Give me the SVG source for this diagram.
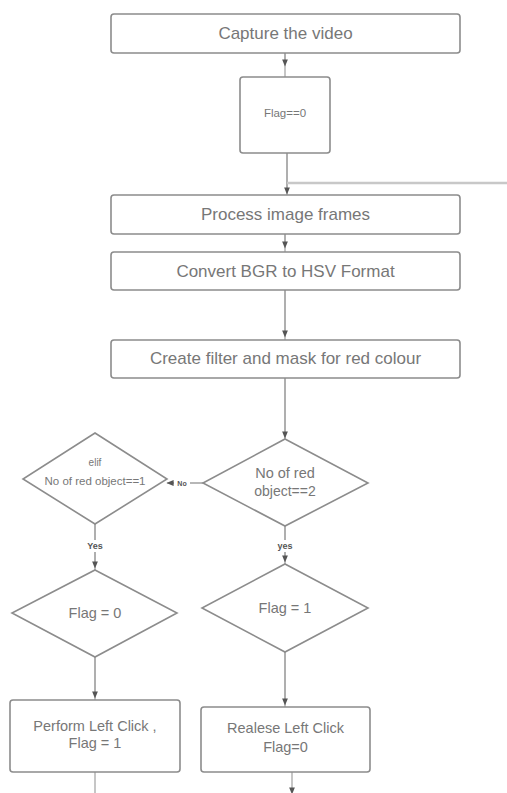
<svg xmlns="http://www.w3.org/2000/svg" width="507" height="793" viewBox="0 0 507 793">
<defs>
<style>
.box{fill:#fff;stroke:#8c8c8c;stroke-width:1.6}
.t{font-family:"Liberation Sans",Arial,sans-serif;fill:#777;text-anchor:middle;dominant-baseline:central}
.c{stroke:#a0a0a0;stroke-width:1.2;fill:none}
.lbl{font-family:"Liberation Sans",Arial,sans-serif;fill:#555;text-anchor:middle;dominant-baseline:central;font-weight:bold}
</style>
<marker id="ah" viewBox="0 0 10 10" refX="5" refY="5" markerWidth="6" markerHeight="6" orient="auto">
<path d="M0,1 L10,5 L0,9 z" fill="#555"/>
</marker>
</defs>
<rect width="507" height="793" fill="#fff"/>
<g id="connectors">
<path class="c" d="M285,53 V77"/>
<path class="c" d="M285,53 V63" marker-end="url(#ah)"/>
<path class="c" d="M287,153 V195"/>
<path class="c" d="M287,153 V191" marker-end="url(#ah)"/>
<path d="M287,183 H507" stroke="#c8c8c8" stroke-width="2.5" fill="none"/>
<path class="c" d="M285,234 V252"/>
<path class="c" d="M285,234 V245" marker-end="url(#ah)"/>
<path class="c" d="M285,290 V340"/>
<path class="c" d="M285,290 V334" marker-end="url(#ah)"/>
<path class="c" d="M285,378 V439"/>
<path class="c" d="M285,378 V435" marker-end="url(#ah)"/>
<path class="c" d="M203,483 H167"/>
<path class="c" d="M203,483 H170" marker-end="url(#ah)"/>
<path class="c" d="M95,524 V570"/>
<path class="c" d="M95,524 V565" marker-end="url(#ah)"/>
<path class="c" d="M285,526 V564"/>
<path class="c" d="M285,526 V559" marker-end="url(#ah)"/>
<path class="c" d="M95,657 V700"/>
<path class="c" d="M95,657 V695" marker-end="url(#ah)"/>
<path class="c" d="M285,652 V707"/>
<path class="c" d="M285,652 V702" marker-end="url(#ah)"/>
<path class="c" d="M95,772 V793"/>
<path class="c" d="M292,772 V791" marker-end="url(#ah)"/>
<rect x="174" y="478" width="16" height="10" fill="#fff"/>
<text class="lbl" x="182" y="483" font-size="7">No</text>
<rect x="86" y="540" width="18" height="12" fill="#fff"/>
<text class="lbl" x="95" y="546" font-size="9">Yes</text>
<rect x="275" y="540" width="20" height="12" fill="#fff"/>
<text class="lbl" x="285" y="546" font-size="9">yes</text>
</g>
<g id="capture"><rect class="box" x="111" y="14" width="349" height="39" rx="3"/><text class="t" x="285.5" y="33" font-size="17">Capture the video</text></g>
<g id="flag0init"><rect class="box" x="240" y="77" width="90" height="76" rx="3"/><text class="t" x="285" y="113" font-size="11.5">Flag==0</text></g>
<g id="process"><rect class="box" x="111" y="195" width="349" height="39" rx="3"/><text class="t" x="285.5" y="214" font-size="17">Process image frames</text></g>
<g id="convert"><rect class="box" x="111" y="252" width="349" height="38" rx="3"/><text class="t" x="285.5" y="271" font-size="17">Convert BGR to HSV Format</text></g>
<g id="filter"><rect class="box" x="111" y="340" width="349" height="38" rx="3"/><text class="t" x="285.5" y="358" font-size="17">Create filter and mask for red colour</text></g>
<g id="dec2"><path class="box" d="M285,439 L368,483 L285,526 L203,483 Z"/><text class="t" x="285" y="473" font-size="14.5">No of red</text><text class="t" x="285" y="491" font-size="14">object==2</text></g>
<g id="dec1"><path class="box" d="M95,433 L167,479 L95,524 L23,479 Z"/><text class="t" x="95" y="462" font-size="10">elif</text><text class="t" x="95" y="481" font-size="11.5">No of red object==1</text></g>
<g id="flagq0"><path class="box" d="M95,570 L177,613 L95,657 L12,613 Z"/><text class="t" x="95" y="613" font-size="14.5">Flag = 0</text></g>
<g id="flagq1"><path class="box" d="M285,564 L368,608 L285,652 L202,608 Z"/><text class="t" x="285" y="608" font-size="14.5">Flag = 1</text></g>
<g id="leftclick"><rect class="box" x="10" y="700" width="170" height="72" rx="3"/><text class="t" x="95" y="726" font-size="14.5">Perform Left Click ,</text><text class="t" x="95" y="743" font-size="14.5">Flag = 1</text></g>
<g id="release"><rect class="box" x="201" y="707" width="169" height="65" rx="3"/><text class="t" x="285.5" y="728" font-size="14.5">Realese Left Click</text><text class="t" x="285.5" y="747" font-size="14.5">Flag=0</text></g>
</svg>
